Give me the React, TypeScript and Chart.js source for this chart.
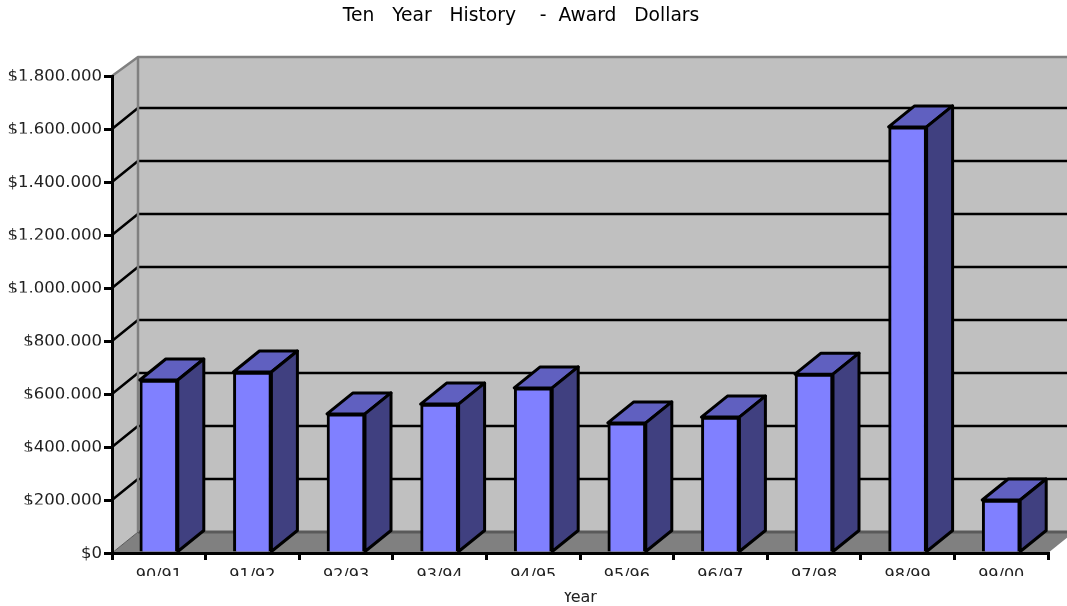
import React, { useEffect, useRef } from "react";
import { Chart, registerables } from "chart.js";

Chart.register(...registerables);

const categories = ["90/91", "91/92", "92/93", "93/94", "94/95", "95/96", "96/97", "97/98", "98/99", "99/00"];
const awardDollars = [653000, 683000, 525000, 562000, 623000, 491000, 513000, 675000, 1608000, 200000];
const axisMax = 1800000;
const axisStep = 200000;
const chartTitle = "Ten   Year   History    -  Award   Dollars ";
const xTitle = "Year";

const DX = 26;
const DY = 21;
const TOP_DY = 19;
const FONT = "'DejaVu Sans'";

// tick labels whose lower edge is cut off in the picture
const cutValues = [1800000, 1600000, 1200000, 1000000, 800000, 600000, 400000, 200000];

const poly = (ctx: CanvasRenderingContext2D, pts: number[][], fill: string | null, stroke?: string, lw?: number) => {
  ctx.beginPath();
  pts.forEach((p, i) => (i ? ctx.lineTo(p[0], p[1]) : ctx.moveTo(p[0], p[1])));
  ctx.closePath();
  if (fill) { ctx.fillStyle = fill; ctx.fill(); }
  if (stroke) { ctx.strokeStyle = stroke; ctx.lineWidth = lw || 1; ctx.stroke(); }
};

const line = (ctx: CanvasRenderingContext2D, pts: number[][], stroke: string, lw: number) => {
  ctx.beginPath();
  pts.forEach((p, i) => (i ? ctx.lineTo(p[0], p[1]) : ctx.moveTo(p[0], p[1])));
  ctx.strokeStyle = stroke;
  ctx.lineWidth = lw;
  ctx.stroke();
};

const box3d = {
  id: "box3d",
  beforeDraw(chart: any) {
    const { ctx, chartArea: a, scales } = chart;
    const y = scales.y;
    ctx.save();
    ctx.lineJoin = "round";
    const x0 = a.left, x1 = a.right, yT = y.getPixelForValue(axisMax), yB = y.getPixelForValue(0);
    poly(ctx, [[x0 + DX, yT - TOP_DY], [x1 + DX, yT - TOP_DY], [x1 + DX, yB - DY], [x0 + DX, yB - DY]], "#C0C0C0");
    poly(ctx, [[x0, yT], [x0 + DX, yT - TOP_DY], [x0 + DX, yB - DY], [x0, yB]], "#C0C0C0");
    poly(ctx, [[x0, yB], [x0 + DX, yB - DY], [x1 + DX, yB - DY], [x1, yB]], "#808080");
    line(ctx, [[x0 + DX, yB - DY], [x1 + DX, yB - DY]], "#5a5a5a", 3);
    for (let v = axisStep; v < axisMax; v += axisStep) {
      const p = y.getPixelForValue(v);
      line(ctx, [[x0, p], [x0 + DX, p - DY], [x1 + DX, p - DY]], "#000", 2.5);
    }
    line(ctx, [[x0, yT], [x0 + DX, yT - TOP_DY], [x1 + DX, yT - TOP_DY]], "#808080", 2.5);
    line(ctx, [[x0 + DX, yT - TOP_DY], [x0 + DX, yB - DY]], "#808080", 2.5);
    line(ctx, [[x0, yB], [x0 + DX, yB - DY]], "#5a5a5a", 1);
    ctx.restore();
  },
  afterDatasetsDraw(chart: any) {
    const { ctx } = chart;
    ctx.save();
    ctx.lineJoin = "round";
    chart.getDatasetMeta(0).data.forEach((b: any) => {
      const l = b.x - b.width / 2, r = b.x + b.width / 2;
      const t = b.y, base = b.base;
      poly(ctx, [[l, t], [r, t], [r + DX, t - DY], [l + DX, t - DY]], "#6060C0", "#000", 3);
      poly(ctx, [[r, t], [r + DX, t - DY], [r + DX, base - DY], [r, base]], "#404080", "#000", 3);
    });
    ctx.restore();
  },
  afterDraw(chart: any) {
    const { ctx, scales } = chart;
    const y = scales.y;
    ctx.save();
    ctx.fillStyle = "#fff";
    cutValues.forEach((v) => ctx.fillRect(0, y.getPixelForValue(v) + 4.5, 103, 9));
    const base = y.getPixelForValue(0);
    ctx.fillRect(0, base + 23, 1067, 16);
    ctx.fillRect(0, base + 49, 1067, 8);
    ctx.restore();
  },
};

export default function App() {
  const ref = useRef<HTMLCanvasElement>(null);
  useEffect(() => {
    const chart = new Chart(ref.current!, {
      type: "bar",
      data: {
        labels: categories,
        datasets: [{
          label: "Award Dollars",
          data: awardDollars,
          backgroundColor: "#8080FF",
          borderColor: "#000",
          borderWidth: 3,
          barThickness: 38,
        }],
      },
      plugins: [box3d],
      options: {
        animation: false,
        responsive: false,
        layout: { padding: { left: 0, right: 19, top: 0, bottom: 0 } },
        plugins: {
          legend: { display: false },
          tooltip: { enabled: false },
          title: {
            display: true,
            text: chartTitle,
            color: "#000",
            font: { family: FONT, size: 18.7, weight: "normal", lineHeight: 1.2 },
            padding: { top: 5, bottom: 48.6 },
          },
        },
        scales: {
          x: {
            afterFit: (s: any) => { s.height = 53; },
            grid: { drawOnChartArea: false, color: "#000", lineWidth: 3, tickLength: 7, tickColor: "#000", tickWidth: 3 },
            border: { display: true, color: "#000", width: 3 },
            ticks: { color: "#222", font: { family: FONT, size: 16 }, padding: 6, maxRotation: 0 },
            title: { display: true, text: xTitle, color: "#222", font: { family: FONT, size: 16, lineHeight: 1 }, padding: 0 },
          },
          y: {
            min: 0,
            max: axisMax,
            afterFit: (s: any) => { s.width = 112; },
            grid: { drawOnChartArea: false, color: "#000", lineWidth: 3, tickLength: 8, tickColor: "#000", tickWidth: 3 },
            border: { display: true, color: "#000", width: 3 },
            ticks: {
              stepSize: axisStep,
              color: "#222",
              padding: 2,
              labelOffset: 1,
              font: { family: FONT, size: 16.5 },
              callback: (v: any) => "$" + String(v).replace(/\B(?=(\d{3})+$)/g, "."),
            },
          },
        },
      },
    } as any);
    return () => chart.destroy();
  }, []);
  return (
    <div style={{ position: "fixed", left: 0, top: 0, width: 1067, height: 606, background: "#fff" }}>
      <canvas ref={ref} width={1067} height={606} style={{ display: "block" }} />
    </div>
  );
}
